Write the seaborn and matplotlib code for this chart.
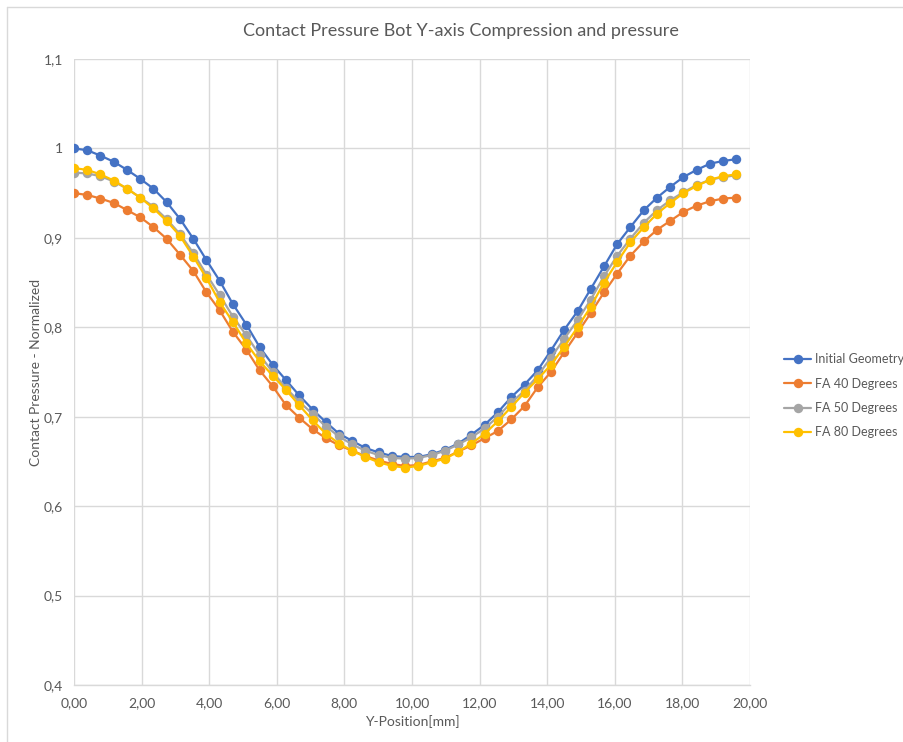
import matplotlib
matplotlib.use("Agg")
import matplotlib.pyplot as plt
from matplotlib.lines import Line2D
from matplotlib.ticker import FuncFormatter, MultipleLocator
import pandas as pd
import seaborn as sns

# Y-position along the contact (mm)
y_position = [
    0.00, 0.39, 0.78, 1.18, 1.57, 1.96, 2.35, 2.74, 3.14, 3.53,
    3.92, 4.31, 4.70, 5.10, 5.49, 5.88, 6.27, 6.66, 7.06, 7.45,
    7.84, 8.23, 8.62, 9.02, 9.41, 9.80, 10.19, 10.58, 10.98, 11.37,
    11.76, 12.15, 12.54, 12.94, 13.33, 13.72, 14.11, 14.50, 14.90, 15.29,
    15.68, 16.07, 16.46, 16.86, 17.25, 17.64, 18.03, 18.42, 18.82, 19.21,
    19.60,
]

initial_geometry = [
    1.000, 0.998, 0.992, 0.985, 0.976, 0.966, 0.955, 0.940, 0.921, 0.899,
    0.875, 0.852, 0.826, 0.803, 0.778, 0.758, 0.741, 0.724, 0.708, 0.694,
    0.681, 0.673, 0.665, 0.660, 0.656, 0.655, 0.655, 0.658, 0.663, 0.670,
    0.680, 0.691, 0.705, 0.722, 0.736, 0.752, 0.774, 0.797, 0.818, 0.843,
    0.868, 0.893, 0.912, 0.931, 0.945, 0.957, 0.968, 0.976, 0.983, 0.986,
    0.988,
]

fa_40 = [
    0.950, 0.948, 0.944, 0.939, 0.931, 0.923, 0.912, 0.899, 0.881, 0.863,
    0.839, 0.819, 0.795, 0.775, 0.752, 0.734, 0.713, 0.699, 0.686, 0.676,
    0.668, 0.662, 0.656, 0.651, 0.647, 0.645, 0.646, 0.650, 0.654, 0.661,
    0.668, 0.676, 0.684, 0.697, 0.712, 0.733, 0.750, 0.772, 0.794, 0.816,
    0.839, 0.860, 0.880, 0.896, 0.909, 0.919, 0.929, 0.936, 0.941, 0.944,
    0.945,
]

fa_50 = [
    0.973, 0.972, 0.969, 0.963, 0.955, 0.945, 0.935, 0.921, 0.904, 0.883,
    0.859, 0.836, 0.812, 0.791, 0.769, 0.750, 0.732, 0.717, 0.703, 0.689,
    0.678, 0.669, 0.662, 0.657, 0.654, 0.653, 0.654, 0.657, 0.662, 0.669,
    0.677, 0.687, 0.700, 0.716, 0.729, 0.746, 0.766, 0.787, 0.808, 0.831,
    0.857, 0.880, 0.899, 0.917, 0.931, 0.942, 0.951, 0.959, 0.965, 0.968,
    0.970,
]

fa_80 = [
    0.978, 0.976, 0.971, 0.964, 0.955, 0.945, 0.933, 0.919, 0.902, 0.879,
    0.855, 0.828, 0.806, 0.782, 0.762, 0.746, 0.730, 0.713, 0.696, 0.681,
    0.670, 0.662, 0.655, 0.649, 0.645, 0.643, 0.645, 0.649, 0.653, 0.661,
    0.670, 0.681, 0.695, 0.711, 0.727, 0.742, 0.758, 0.778, 0.800, 0.823,
    0.850, 0.873, 0.895, 0.912, 0.927, 0.939, 0.950, 0.958, 0.965, 0.969,
    0.971,
]

series_names = ["Initial Geometry", "FA 40 Degrees", "FA 50 Degrees", "FA 80 Degrees"]
series_values = [initial_geometry, fa_40, fa_50, fa_80]
series_colors = ["#4472C4", "#ED7D31", "#A5A5A5", "#FFC000"]

frames = [
    pd.DataFrame({"Y-Position": y_position, "Pressure": vals, "Series": name})
    for name, vals in zip(series_names, series_values)
]
df = pd.concat(frames, ignore_index=True)

sns.set_theme(style="white")
plt.rcParams["font.family"] = ["Lato", "DejaVu Sans"]

text_gray = "#595959"
grid_gray = "#D9D9D9"

fig = plt.figure(figsize=(9.04, 7.42), dpi=100)
ax = fig.add_axes([74 / 904, 1 - 685 / 742, (750 - 74) / 904, (685 - 59) / 742])

sns.lineplot(
    data=df, x="Y-Position", y="Pressure", hue="Series",
    hue_order=series_names, palette=series_colors,
    marker="o", markersize=6.8, markeredgewidth=0, linewidth=1.6,
    sort=False, ax=ax, legend=False,
)

ax.set_xlim(0, 20)
ax.set_ylim(0.4, 1.1)
ax.xaxis.set_major_locator(MultipleLocator(2))
ax.yaxis.set_major_locator(MultipleLocator(0.1))
ax.xaxis.set_major_formatter(FuncFormatter(lambda v, p: f"{v:.2f}".replace(".", ",")))
ax.yaxis.set_major_formatter(FuncFormatter(lambda v, p: f"{round(v, 1):g}".replace(".", ",")))

ax.grid(True, color=grid_gray, linewidth=1.0)
ax.set_axisbelow(True)
for side in ["top", "right", "left"]:
    ax.spines[side].set_visible(False)
ax.spines["bottom"].set_color(grid_gray)
ax.spines["bottom"].set_linewidth(1.0)

ax.tick_params(axis="both", length=0, labelsize=10, labelcolor=text_gray)
ax.tick_params(axis="x", pad=9)
ax.tick_params(axis="y", pad=8)

ax.set_xlabel("Y-Position[mm]", fontsize=10, color=text_gray, labelpad=4)
ax.set_ylabel("Contact Pressure - Normalized", fontsize=10, color=text_gray, labelpad=1)

fig.text(461 / 904, 1 - 31 / 742, "Contact Pressure Bot Y-axis Compression and pressure",
         ha="center", va="center", fontsize=13, color=text_gray)

handles = [
    Line2D([], [], color=c, marker="o", markersize=6.8, markeredgewidth=0, linewidth=1.6)
    for c in series_colors
]
leg = fig.legend(
    handles, series_names, loc="upper left",
    bbox_to_anchor=(784 / 904, 1 - 353 / 742),
    frameon=False, fontsize=9, labelcolor=text_gray,
    borderaxespad=0, borderpad=0,
    handlelength=2.2, handletextpad=0.25, labelspacing=1.0,
)

# chart frame
fig.add_artist(Line2D([7 / 904, 1.0], [1 - 7 / 742, 1 - 7 / 742],
                      transform=fig.transFigure, color=grid_gray, linewidth=1.0))
fig.add_artist(Line2D([7 / 904, 7 / 904], [0.0, 1 - 7 / 742],
                      transform=fig.transFigure, color=grid_gray, linewidth=1.0))

fig.savefig("out.png", dpi=100, facecolor="white")
